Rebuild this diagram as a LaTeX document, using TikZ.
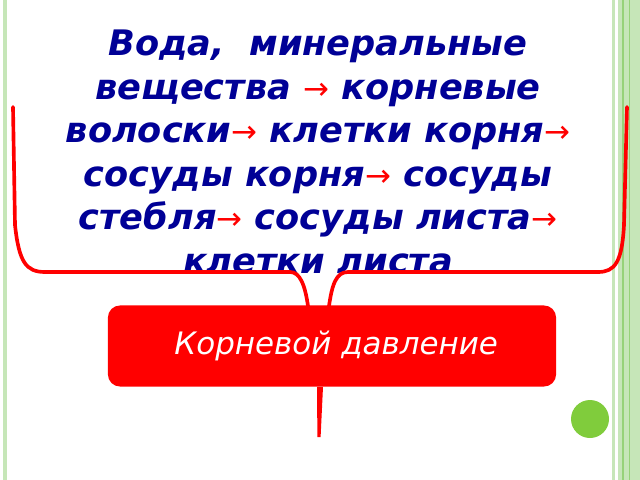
\documentclass[tikz,border=0pt]{standalone}
\usepackage{fontspec}
\setmainfont{DejaVu Sans}
\newfontfamily\chainfont{DejaVu Sans}
\usetikzlibrary{positioning}
\definecolor{navy}{RGB}{0,0,150}
\definecolor{edgegreen}{RGB}{198,230,184}
\definecolor{darkgreen}{RGB}{150,210,120}
\definecolor{dotgreen}{RGB}{128,204,60}
\newcommand\toarr{{\color{red}\fontsize{22}{22}\selectfont\textmd{\upshape →}}}
\tikzset{
  bracket/.style = {draw=red, line width=2.6pt, line cap=round, line join=round},
  chainbox/.style = {font=\chainfont\bfseries\itshape\fontsize{25}{31}\selectfont, text=navy, align=center},
  pressbox/.style = {fill=red, rounded corners=0.3cm, minimum width=11.2cm, minimum height=2.025cm, text=white, font=\itshape\fontsize{22}{26}\selectfont}
}
\begin{document}
\begin{tikzpicture}[x=0.025cm, y=-0.025cm]
\useasboundingbox (0,0) rectangle (640,480);
% frame
\fill[white] (0,0) rectangle (640,480);
\fill[edgegreen] (3,0) rectangle (7,480);
\fill[edgegreen] (612,0) rectangle (615,480);
\fill[edgegreen] (618,0) rectangle (640,480);
\draw[darkgreen, line width=1pt] (623,0) -- (623,480);
\draw[darkgreen, line width=0.6pt] (629,0) -- (629,480);
% text
\node[chainbox] (chain) at (318,152) {Вода,\ \ минеральные\\ вещества \toarr\ корневые\\ волоски\toarr\ клетки корня\toarr\\ сосуды корня\toarr\ сосуды\\ стебля\toarr\ сосуды листа\toarr\\ клетки листа};
\node[pressbox] (press) at (332,346) {\hspace*{6pt}Корневой давление};
% bracket
\coordinate (ltop) at (13,107);
\coordinate (rtop) at (627,107);
\coordinate (ljoin) at (308,306);
\coordinate (rjoin) at (329,306);
\coordinate (tail) at (319,437);
\draw[bracket] (ltop) -- (15,225) .. controls (19,262) and (26,272) .. (45,272) -- (290,272) .. controls (300,272) and (305,285) .. (ljoin);
\draw[bracket] (rjoin) .. controls (332,285) and (336,272) .. (348,272) -- (598,272) .. controls (615,272) and (622,262) .. (624,225) -- (rtop);
\fill[red] (press.south -| 317,0) -- (press.south -| 323,0) -- ([xshift=0.04cm]tail) -- ([xshift=-0.04cm]tail) -- cycle;
% dot
\fill[dotgreen] (590,419) circle (19);
\end{tikzpicture}
\end{document}
